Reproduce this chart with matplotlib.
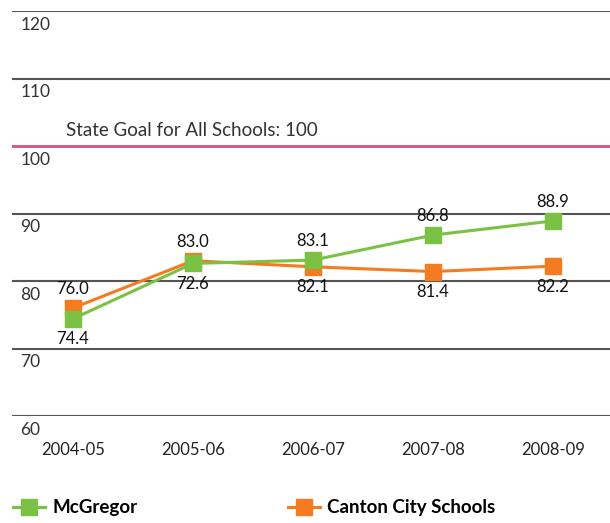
import matplotlib.pyplot as plt
from matplotlib.lines import Line2D

years = ['2004-05', '2005-06', '2006-07', '2007-08', '2008-09']
mcgregor = [74.4, 82.6, 83.1, 86.8, 88.9]
mcgregor_labels = ['74.4', '72.6', '83.1', '86.8', '88.9']
canton = [76.0, 83.0, 82.1, 81.4, 82.2]
canton_labels = ['76.0', '83.0', '82.1', '81.4', '82.2']
yticks = [60, 70, 80, 90, 100, 110, 120]
goal = 100

GREEN = '#7bc143'
ORANGE = '#f47b20'
plt.rcParams['font.family'] = ['Lato', 'DejaVu Sans']

fig = plt.figure(figsize=(6.1, 5.23), dpi=100)
ax = fig.add_axes([12/610, 107/523, 598/610, 405/523])
ax.set_xlim(-0.508, 4.475)
ax.set_ylim(60, 120)

for v in yticks:
    ax.axhline(v, color='#d6517d' if v == goal else '#555555',
               lw=2 if v == goal else 1.5, zorder=1)
    ax.annotate(str(v), (0, v), xycoords=('axes fraction', 'data'),
                xytext=(6, -4), textcoords='offset points',
                ha='left', va='top', fontsize=12.5, color='#333333')
ax.annotate('State Goal for All Schools: %d' % goal, (0, goal),
            xycoords=('axes fraction', 'data'), xytext=(39, 5),
            textcoords='offset points', ha='left', va='bottom',
            fontsize=13.5, color='#333333')

x = range(len(years))
ax.plot(x, canton, color=ORANGE, lw=2.2, marker='s', ms=12, zorder=3)
ax.plot(x, mcgregor, color=GREEN, lw=2.2, marker='s', ms=12, zorder=4)

for i in x:
    pairs = [(mcgregor[i], mcgregor_labels[i]), (canton[i], canton_labels[i])]
    hi = max(pairs, key=lambda p: p[0])
    lo = min(pairs, key=lambda p: p[0])
    ax.annotate(hi[1], (i, hi[0]), xytext=(0, 8), textcoords='offset points',
                ha='center', va='bottom', fontsize=12, color='#111111')
    ax.annotate(lo[1], (i, lo[0]), xytext=(0, -9), textcoords='offset points',
                ha='center', va='top', fontsize=12, color='#111111')

ax.set_xticks(list(x))
ax.set_xticklabels(years, fontsize=12, color='#222222')
ax.tick_params(axis='x', length=0, pad=19)
ax.set_yticks([])
for s in ax.spines.values():
    s.set_visible(False)

handles = [Line2D([], [], color=GREEN, lw=2.2, marker='s', ms=12),
           Line2D([], [], color=ORANGE, lw=2.2, marker='s', ms=12)]
fig.legend(handles, ['McGregor', 'Canton City Schools'], loc='lower left',
           bbox_to_anchor=(0.0, -0.012), ncol=2, frameon=False,
           prop={'weight': 'bold', 'size': 13.5}, handlelength=1.7,
           handletextpad=0.4, columnspacing=8.0, borderaxespad=0.3)

fig.savefig('out.png', dpi=100)
